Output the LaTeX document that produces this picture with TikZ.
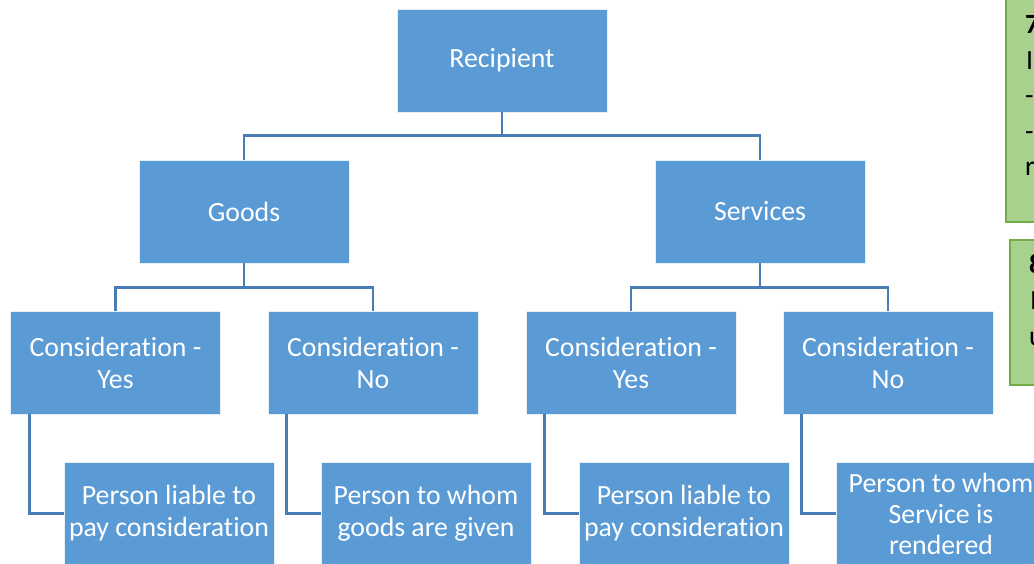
\documentclass[tikz,border=0pt]{standalone}
\usepackage{fontspec}
\setmainfont{Carlito}[Ligatures=NoCommon]
\usetikzlibrary{positioning}

\definecolor{boxblue}{HTML}{5B9BD5}
\definecolor{linkblue}{HTML}{4A7DB5}
\definecolor{notegreen}{HTML}{A9D18E}
\definecolor{noteedge}{HTML}{70AD47}

\tikzset{
  box/.style={fill=boxblue, draw=white!85!boxblue, line width=0.6pt,
    minimum width=210pt, minimum height=103pt, inner sep=2pt,
    text=white, align=center, font=\fontsize{27.8}{32}\selectfont},
  link/.style={draw=linkblue, line width=2.8pt},
  note/.style={fill=notegreen, draw=noteedge, line width=1.2pt},
  notetext/.style={anchor=base west, inner sep=0pt, font=\fontsize{27.8}{35}\selectfont}
}

\begin{document}
\begin{tikzpicture}[x=1pt,y=-1pt]
\useasboundingbox (0,0) rectangle (1034,564);

% Tree boxes
\node[box] (rec) at (502,60.5) {Recipient};
\node[box] (goods) at (244,211.5) {Goods};
\node[box] (serv) at (760,211.5) {Services};

\node[box] (gyes) at (115.5,362.5) {Consideration -\\Yes};
\node[box] (gno) at (373,362.5) {Consideration -\\No};
\node[box] (syes) at (631,362.5) {Consideration -\\Yes};
\node[box] (sno) at (888,362.5) {Consideration -\\No};

\node[box] (gyesleaf) at (169,513.5) {Person liable to\\pay consideration};
\node[box] (gnoleaf) at (426,513.5) {Person to whom\\goods are given};
\node[box] (syesleaf) at (684,513.5) {Person liable to\\pay consideration};
\node[box, font=\fontsize{27.8}{31}\selectfont] (snoleaf) at (941,513.5) {Person to whom\\Service is\\rendered};

% Connectors
\draw[link] (rec.south) -- ++(0,23) -| (goods.north);
\draw[link] (rec.south) -- ++(0,23) -| (serv.north);
\draw[link] (goods.south) -- ++(0,24) -| (gyes.north);
\draw[link] (goods.south) -- ++(0,24) -| (gno.north);
\draw[link] (serv.south) -- ++(0,24) -| (syes.north);
\draw[link] (serv.south) -- ++(0,24) -| (sno.north);

\draw[link] ([xshift=19pt]gyes.south west) |- (gyesleaf.west);
\draw[link] ([xshift=19pt]gno.south west) |- (gnoleaf.west);
\draw[link] ([xshift=19pt]syes.south west) |- (syesleaf.west);
\draw[link] ([xshift=19pt]sno.south west) |- (snoleaf.west);

% Notes cut off at the right edge
\draw[note] (1006,-5) rectangle (1060,222);
\node[notetext] (n7a) at (1025,34) {\textbf{7}};
\node[notetext] (n7b) at (1026,69.5) {I};
\node[notetext] (n7c) at (1025,105) {-};
\node[notetext] (n7d) at (1025,140.5) {-};
\node[notetext] (n7e) at (1025,176) {r};

\draw[note] (1010,240) rectangle (1060,385);
\node[notetext] (n8a) at (1029,274) {\textbf{8}};
\node[notetext] (n8b) at (1030,309.5) {I};
\node[notetext] (n8c) at (1029,345) {u};

\end{tikzpicture}
\end{document}
